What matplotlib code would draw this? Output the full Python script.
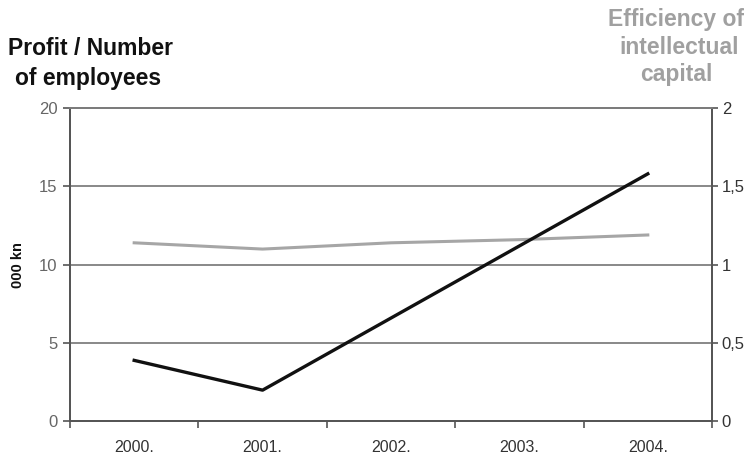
import matplotlib
matplotlib.use("Agg")
import matplotlib.pyplot as plt
import numpy as np

plt.rcParams['font.family'] = ['Liberation Sans', 'DejaVu Sans']

years = ["2000.", "2001.", "2002.", "2003.", "2004."]
profit_per_employee = [3.9, 2.0, 6.6, 11.2, 15.8]          # 000 kn (left axis)
ic_efficiency = [1.14, 1.10, 1.14, 1.16, 1.19]             # right axis

fig = plt.figure(figsize=(7.54, 4.59), dpi=100)
ax = fig.add_axes([0.0928, 0.0817, 0.8515, 0.683])
ax2 = ax.twinx()

x = np.arange(len(years))

# horizontal grid at 5, 10, 15
for v in (5, 10, 15):
    ax.axhline(v, color="#7f7f7f", lw=1.3, zorder=1)

ax2.plot(x, ic_efficiency, color="#a6a6a6", lw=2.2, zorder=3)
ax.plot(x, profit_per_employee, color="#111111", lw=2.4, zorder=4)
ax.set_zorder(ax2.get_zorder() + 1)
ax.patch.set_visible(False)

ax.set_xlim(-0.5, len(years) - 0.5)
ax.set_ylim(0, 20)
ax2.set_ylim(0, 2)

ax.set_yticks([0, 5, 10, 15, 20])
ax.set_yticklabels(["0", "5", "10", "15", "20"])
ax2.set_yticks([0, 0.5, 1, 1.5, 2])
ax2.set_yticklabels(["0", "0,5", "1", "1,5", "2"])

ax.set_xticks(np.arange(-0.5, len(years)), minor=False)
ax.set_xticklabels([])
ax.set_xticks(x, minor=True)
ax.set_xticklabels(years, minor=True)
ax.tick_params(axis="x", which="minor", length=0, pad=13, labelsize=11.5, labelcolor="#333333")
ax.tick_params(axis="x", which="major", length=5, width=1.2, color="#555555")
ax.tick_params(axis="y", length=5, width=1.2, color="#555555", labelsize=12,
               labelcolor="#666666", pad=4)
ax2.tick_params(axis="y", length=4, width=1.2, color="#555555", labelsize=12,
                labelcolor="#333333", pad=3)

for a in (ax, ax2):
    for s in a.spines.values():
        s.set_color("#555555")
        s.set_linewidth(1.3)
ax.spines["top"].set_color("#7f7f7f")

ax.set_ylabel("000 kn", fontsize=10.5, fontweight="bold", color="#111111", labelpad=10)

fig.text(0.011, 0.895, "Profit / Number", fontsize=16.5, fontweight="bold",
         color="#111111", ha="left", va="center")
fig.text(0.020, 0.830, "of employees", fontsize=16.5, fontweight="bold",
         color="#111111", ha="left", va="center")

gray_title = "#a0a0a0"
fig.text(0.897, 0.957, "Efficiency of", fontsize=16.5, fontweight="bold",
         color=gray_title, ha="center", va="center")
fig.text(0.901, 0.897, "intellectual", fontsize=16.5, fontweight="bold",
         color=gray_title, ha="center", va="center")
fig.text(0.897, 0.837, "capital", fontsize=16.5, fontweight="bold",
         color=gray_title, ha="center", va="center")

fig.savefig("out.png", dpi=100)
